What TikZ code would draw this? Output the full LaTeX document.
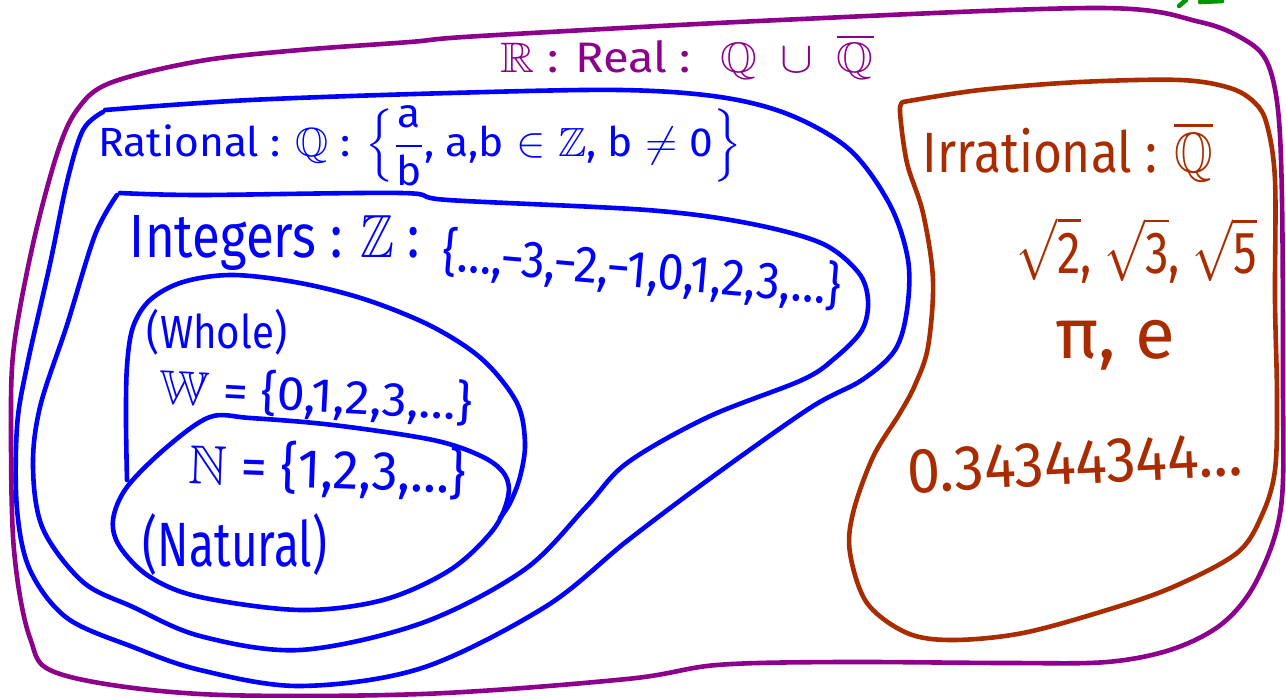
\documentclass[tikz,border=0pt]{standalone}
\usepackage{amsmath}
\usepackage{amssymb}
\usepackage{graphicx}
\usepackage{fontspec}
\setmainfont{Fira Sans}
\definecolor{realc}{RGB}{140,0,140}
\definecolor{ratc}{RGB}{0,0,255}
\definecolor{irrc}{RGB}{168,44,0}
\definecolor{grc}{RGB}{0,150,0}
\tikzset{
  loopline/.style={line width=4.6pt, line cap=round, line join=round},
  lab/.style={inner sep=0pt, anchor=center, font=\fontsize{20}{24}\selectfont}
}
\newcommand{\tx}[1]{\text{#1}}
\begin{document}
\begin{tikzpicture}[x=1pt,y=-1pt]
\useasboundingbox (0,0) rectangle (1286,698);
% outer real loop
\draw[loopline, realc] plot[smooth cycle, tension=0.55] coordinates {
 (480,36) (780,20) (1100,8) (1200,22) (1245,40) (1267,62) (1278,110) (1282,200)
 (1283,380) (1281,507) (1257,580) (1223,623) (1173,649) (1107,662) (1007,663)
 (840,662) (717,665) (627,679) (422,694) (200,694) (60,674) (30,638) (14,550)
 (11,427) (14,346) (33,244) (57,154) (77,110) (110,83) (200,61) (300,50) (410,42)};
% rational loop
\draw[loopline, ratc] plot[smooth, tension=0.55] coordinates {
 (105,110) (250,100) (450,93) (620,90) (720,97) (790,115) (850,150) (890,205)
 (908,260) (907,310) (895,350) (862,380) (810,408) (708,480) (627,541) (545,607)
 (422,668) (300,686) (200,670) (133,647) (67,618) (30,570) (17,509) (17,427)
 (27,366) (50,264) (67,182) (83,130) (103,112)};
% integers loop
\draw[loopline, ratc] plot[smooth, tension=0.55] coordinates {
 (120,193) (200,195) (401,193) (448,200) (647,210) (747,223) (821,243) (858,272)
 (868,300) (862,330) (835,358) (802,380) (708,417) (627,463) (586,507) (524,570)
 (422,623) (300,650) (200,636) (133,607) (83,582) (43,529) (33,468) (40,407)
 (67,325) (95,235) (117,195)};
% whole loop
\draw[loopline, ratc] plot[smooth, tension=0.55] coordinates {
 (127,480) (126,420) (127,366) (133,327) (150,300) (183,282) (233,275) (300,283)
 (367,300) (433,327) (483,360) (517,403) (525,443) (520,477) (510,503) (500,518)};
% natural loop
\draw[loopline, ratc] plot[smooth cycle, tension=0.55] coordinates {
 (210,417) (167,447) (127,487) (113,520) (120,547) (150,577) (200,597) (300,610)
 (383,600) (450,570) (493,530) (508,497) (505,475) (483,457) (433,440) (333,425)
 (250,418)};
% irrational loop
\draw[loopline, irrc] plot[smooth, tension=0.55] coordinates {
 (903,102) (980,90) (1080,82) (1180,80) (1230,88) (1255,103) (1267,125) (1275,180)
 (1275,300) (1277,397) (1275,470) (1262,515) (1237,553) (1173,587) (1107,610)
 (1023,633) (953,640) (907,633) (867,603) (850,553) (853,513) (873,457) (900,413)
 (915,385) (928,347) (933,280) (923,213) (907,163) (900,112) (903,102)};
% green marks
\draw[loopline, grc] (1179,6) -- (1186,0);
\draw[loopline, grc] (1200,2) -- (1222,1);
% labels
\node[lab, text=realc] (title) at (687,57) {\resizebox*{373pt}{45pt}{$\mathbb{R}$ : Real : \ $\mathbb{Q}\ \cup\ \overline{\mathbb{Q}}$}};
\node[lab, text=ratc] (rat) at (420,146) {\resizebox*{643pt}{80pt}{Rational : $\mathbb{Q}$ : $\Bigl\{\dfrac{\tx{a}}{\tx{b}}\tx{, a,b} \in \mathbb{Z}\tx{, b}\neq\tx{0}\Bigr\}$}};
\node[lab, text=ratc] (int) at (275,243) {\resizebox*{290pt}{55pt}{Integers : $\mathbb{Z}$ :}};
\node[lab, text=ratc, rotate=-5] (intset) at (642,270) {\resizebox*{400pt}{52pt}{\{…,−3,−2,−1,0,1,2,3,…\}}};
\node[lab, text=ratc] (wholename) at (217,332) {\resizebox*{140pt}{46pt}{(Whole)}};
\node[lab, text=ratc, rotate=-3] (wholeset) at (316,396) {\resizebox*{313pt}{48pt}{$\mathbb{W}$ = \{0,1,2,3,…\}}};
\node[lab, text=ratc, rotate=-2] (natset) at (328,470) {\resizebox*{277pt}{55pt}{$\mathbb{N}$ = \{1,2,3,…\}}};
\node[lab, text=ratc] (natname) at (235,545) {\resizebox*{184pt}{62pt}{(Natural)}};
\node[lab, text=irrc] (irr) at (1068,152) {\resizebox*{290pt}{60pt}{Irrational : $\overline{\mathbb{Q}}$}};
\node[lab, text=irrc] (roots) at (1137,250) {\resizebox*{240pt}{66pt}{$\sqrt{\tx{2}}$, $\sqrt{\tx{3}}$, $\sqrt{\tx{5}}$}};
\node[lab, text=irrc] (pie) at (1115,345) {\resizebox*{120pt}{50pt}{π, e}};
\node[lab, text=irrc, rotate=3] (dec) at (1075,463) {\resizebox*{336pt}{44pt}{0.34344344…}};
\end{tikzpicture}
\end{document}
